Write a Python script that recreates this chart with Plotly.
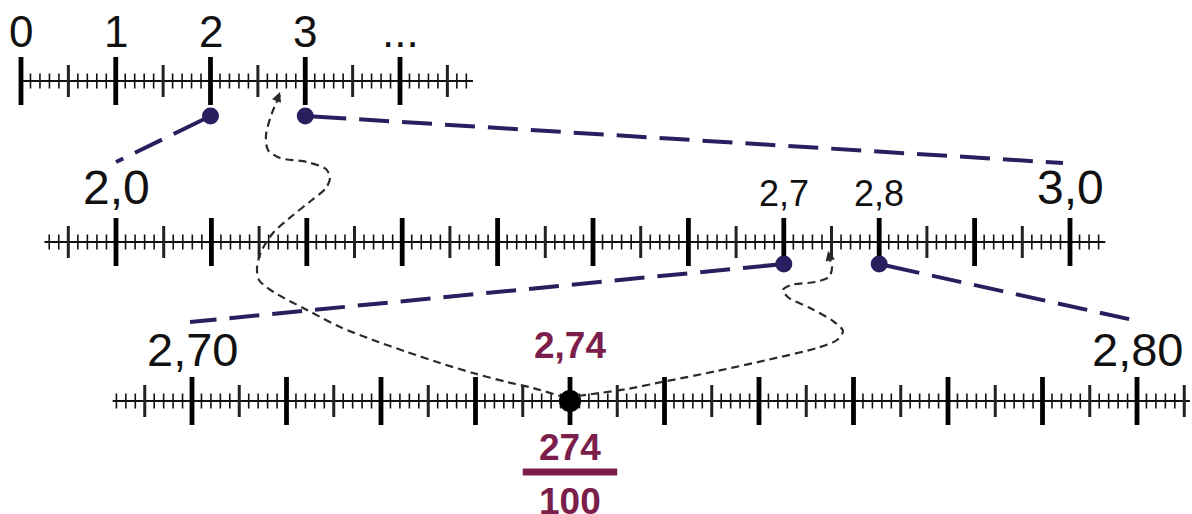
import plotly.graph_objects as go

W, H = 1192, 514
FONT = "Liberation Sans, Arial, Helvetica, sans-serif"
INK = "#111111"
NAVY = "#2a1f5e"
MAROON = "#7b1e4b"
CURVE = "#2a2a2a"

# ---------------- data ----------------
# top number line (units)
top_label_vals = [0, 1, 2, 3, 4]
top_labels = ["0", "1", "2", "3", "..."]
top_tick_k = [0, 47]          # small-tick index range (step 0.1)
top_extent = [0.0, 4.77]

# middle number line (tenths)
mid_big_vals = [2.0, 3.0]
mid_big_labels = ["2,0", "3,0"]
mid_small_vals = [2.7, 2.8]
mid_small_labels = ["2,7", "2,8"]
mid_tick_k = [193, 303]       # step 0.01
mid_extent = [1.925, 3.037]

# bottom number line (hundredths)
bot_label_vals = [2.70, 2.80]
bot_labels = ["2,70", "2,80"]
bot_tick_k = [2692, 2805]     # step 0.001
bot_extent = [2.6916, 2.8056]

top_dots = [2, 3]
mid_dots = [2.7, 2.8]
point_val = 2.74
point_label = "2,74"
frac_num = "274"
frac_den = "100"

# zoom connections: (value on upper line, value on lower line)
zoom_top_mid = [(2, 2.0), (3, 3.0)]
zoom_mid_bot = [(2.7, 2.70), (2.8, 2.80)]

# ---------------- layout constants ----------------
# axis calibration: (value a, pixel a, value b, pixel b)
CAL = {"x": (0, 21, 4, 400), "x2": (2.0, 116, 3.0, 1070), "x3": (2.70, 192, 2.80, 1137)}
TOP_Y, MID_Y, BOT_Y = 81, 242, 401


def axis_range(ax):
    va, pa, vb, pb = CAL[ax]
    s = (vb - va) / (pb - pa)
    return [va - pa * s, va + (W - pa) * s]


def px(ax, v):
    va, pa, vb, pb = CAL[ax]
    return pa + (v - va) * (pb - pa) / (vb - va)


fig = go.Figure()


def number_line(ax, k_range, step, extent, y0):
    xs = {"maj": [], "med": [], "min": []}
    for k in range(k_range[0], k_range[1] + 1):
        v = round(k * step, 6)
        cls = "maj" if k % 10 == 0 else ("med" if k % 5 == 0 else "min")
        xs[cls].append(v)
    # base line
    fig.add_trace(go.Scatter(x=extent, y=[y0, y0], mode="lines", xaxis=ax, yaxis="y",
                             line=dict(color=INK, width=2), hoverinfo="skip"))
    spec = {"min": (7.5, 1.6, INK), "med": (16, 3, "#222222"), "maj": (24, 4.8, "#000000")}
    for cls in ["min", "med", "maj"]:
        h, w, c = spec[cls]
        X, Y = [], []
        for v in xs[cls]:
            X += [v, v, None]
            Y += [y0 - h, y0 + h, None]
        fig.add_trace(go.Scatter(x=X, y=Y, mode="lines", xaxis=ax, yaxis="y",
                                 line=dict(color=c, width=w), hoverinfo="skip"))


number_line("x", top_tick_k, 0.1, top_extent, TOP_Y)
number_line("x2", mid_tick_k, 0.01, mid_extent, MID_Y)
number_line("x3", bot_tick_k, 0.001, bot_extent, BOT_Y)

# ---------------- dotted "path" curves (pixel decoration) ----------------
curve1 = [(280, 95), (272, 113), (266, 135), (268, 150), (280, 158), (307, 162), (326, 169),
          (330, 178), (326, 188), (312, 200), (292, 216), (273, 233), (261, 252), (257, 268),
          (259, 280), (272, 291), (307, 310), (340, 327), (373, 340), (407, 352), (440, 363),
          (473, 373), (507, 382), (533, 388), (560, 396)]
curve2 = [(578, 396), (600, 393), (627, 389), (667, 381), (717, 371), (767, 360), (817, 348),
          (837, 340), (843, 331), (833, 321), (810, 308), (789, 298), (783, 290), (791, 285),
          (815, 282), (829, 277), (832, 267), (828, 255)]
for c in (curve1, curve2):
    fig.add_trace(go.Scatter(x=[p[0] for p in c], y=[p[1] for p in c], mode="lines",
                             xaxis="x4", yaxis="y", line=dict(color=CURVE, width=2.2, dash="8px,5px",
                                                              shape="spline", smoothing=0.8),
                             hoverinfo="skip"))
# arrow tips
for tip, frm in [((280, 92), (272, 113)), ((828, 251), (832, 267))]:
    fig.add_annotation(x=tip[0], y=tip[1], xref="x4", yref="y", ax=(frm[0] - tip[0]) * 0.5,
                       ay=(frm[1] - tip[1]) * 0.5, axref="pixel", ayref="pixel", text="",
                       showarrow=True, arrowhead=2, arrowsize=1.2, arrowwidth=1.6,
                       arrowcolor=CURVE, standoff=0)

# ---------------- navy zoom connectors ----------------
DASH = "41px,13px," + ",".join(["30px,13px"] * 30)
conn = []
for (a, b), dx, yb in zip(zoom_top_mid, [0, -7], [162, 163]):
    conn.append(((px("x", a), 116), (px("x2", b) + dx, yb)))
for (a, b), dx, yb in zip(zoom_mid_bot, [-2, -4], [322, 320]):
    conn.append(((px("x2", a), 264), (px("x3", b) + dx, yb)))
for p0, p1 in conn:
    fig.add_trace(go.Scatter(x=[p0[0], p1[0]], y=[p0[1], p1[1]], mode="lines", xaxis="x4", yaxis="y",
                             line=dict(color=NAVY, width=4, dash=DASH), hoverinfo="skip"))

# ---------------- dots ----------------
fig.add_trace(go.Scatter(x=top_dots, y=[116] * len(top_dots), mode="markers", xaxis="x", yaxis="y",
                         marker=dict(color=NAVY, size=17), hoverinfo="skip"))
fig.add_trace(go.Scatter(x=mid_dots, y=[264] * len(mid_dots), mode="markers", xaxis="x2", yaxis="y",
                         marker=dict(color=NAVY, size=17), hoverinfo="skip"))
fig.add_trace(go.Scatter(x=[point_val], y=[BOT_Y], mode="markers", xaxis="x3", yaxis="y",
                         marker=dict(color="#000000", size=22), hoverinfo="skip"))

# ---------------- labels ----------------
def label(ax, x, y, text, size, color=INK, bold=False):
    fig.add_annotation(x=x, y=y, xref=ax, yref="y", text=f"<b>{text}</b>" if bold else text,
                       showarrow=False, xanchor="center", yanchor="middle",
                       font=dict(family=FONT, size=size, color=color))


for v, t in zip(top_label_vals, top_labels):
    label("x", v, 31, t, 44)
for v, t in zip(mid_big_vals, mid_big_labels):
    label("x2", v, 187, t, 48)
for v, t in zip(mid_small_vals, mid_small_labels):
    label("x2", v, 193, t, 36)
for v, t in zip(bot_label_vals, bot_labels):
    label("x3", v, 349, t, 47)
label("x3", point_val, 345, point_label, 37, MAROON, True)
label("x3", point_val, 447, frac_num, 37, MAROON, True)
label("x3", point_val, 501, frac_den, 37, MAROON, True)
fig.add_shape(type="rect", xref="x3", yref="y", x0=point_val - 0.005, x1=point_val + 0.005,
              y0=468.5, y1=475.5, fillcolor=MAROON, line=dict(width=0))

hidden = dict(visible=False, fixedrange=True)
fig.update_layout(
    width=W, height=H, margin=dict(l=0, r=0, t=0, b=0),
    paper_bgcolor="white", plot_bgcolor="white", showlegend=False,
    xaxis=dict(range=axis_range("x"), domain=[0, 1], **hidden),
    xaxis2=dict(range=axis_range("x2"), domain=[0, 1], overlaying="x", **hidden),
    xaxis3=dict(range=axis_range("x3"), domain=[0, 1], overlaying="x", **hidden),
    xaxis4=dict(range=[0, W], domain=[0, 1], overlaying="x", **hidden),
    yaxis=dict(range=[H, 0], domain=[0, 1], **hidden),
)

fig.write_html("out.html", config={"displayModeBar": False, "staticPlot": True},
               post_script="document.body.style.margin='0';document.body.style.overflow='hidden';")
